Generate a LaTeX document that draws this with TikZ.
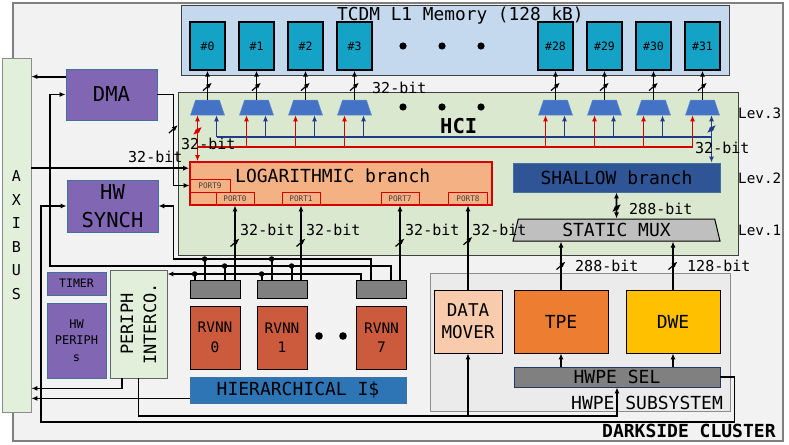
\documentclass[tikz,border=0pt]{standalone}
\usepackage{fontspec}
\setmainfont{DejaVu Sans Mono}
\usetikzlibrary{positioning,calc,shapes.geometric,arrows.meta}

\definecolor{clusterbg}{HTML}{F2F2F2}
\definecolor{clusterln}{HTML}{7F7F7F}
\definecolor{axigreen}{HTML}{E2EFDA}
\definecolor{tcdmblue}{HTML}{C4D9ED}
\definecolor{bankcyan}{HTML}{14A3C7}
\definecolor{hcigreen}{HTML}{D9E8CF}
\definecolor{muxblue}{HTML}{4472C4}
\definecolor{ctrlpurple}{HTML}{8066B3}
\definecolor{boxedge}{HTML}{41719C}
\definecolor{logsalmon}{HTML}{F4B183}
\definecolor{hcired}{HTML}{D40000}
\definecolor{hciblue}{HTML}{1F3C88}
\definecolor{shallowblue}{HTML}{2F5597}
\definecolor{muxgray}{HTML}{BFBFBF}
\definecolor{coregray}{HTML}{808080}
\definecolor{rvnnred}{HTML}{CC5B3E}
\definecolor{hierblue}{HTML}{2E75B6}
\definecolor{hwpebg}{HTML}{EBEBEB}
\definecolor{dmpeach}{HTML}{F8CBAD}
\definecolor{tpeorange}{HTML}{ED7D31}
\definecolor{dweyellow}{HTML}{FFC000}
\definecolor{seledge}{HTML}{1F3864}

\newcommand{\setfs}[2]{\fontsize{#1}{#2}\selectfont}

\begin{document}
\begin{tikzpicture}[
  x=1pt, y=-1pt,
  >={Latex[length=6pt,width=5pt]},
  every node/.style={inner sep=0pt, align=center},
  blk/.style={draw, line width=.8pt},
  ctrl/.style={blk, draw=boxedge, fill=ctrlpurple},
  bank/.style={blk, line width=1.3pt, fill=bankcyan, minimum width=35,
    minimum height=48, font=\setfs{11.5}{13}},
  hcimux/.style={trapezium, trapezium stretches=true, trapezium left angle=78,
    trapezium right angle=78, draw=muxblue!80!white, line width=.5pt,
    fill=muxblue, minimum width=34, minimum height=15, inner sep=1pt},
  port/.style={draw=hcired, line width=.8pt, minimum height=13,
    text=black!75, font=\setfs{7.7}{9}},
  lbl/.style={font=\setfs{18}{22}},
  bits/.style={anchor=base west, font=\setfs{15}{18}},
  lev/.style={anchor=base west, font=\setfs{14.3}{17}},
  wire/.style={line width=1.8pt},
  redbus/.style={line width=1.8pt, color=hcired},
  bluebus/.style={line width=1.8pt, color=hciblue},
  jdot/.style={circle, fill, minimum size=5.5pt},
  busw/.pic={\draw[line width=1.2pt] (-4.5pt,-4pt) -- (4.5pt,4pt);},
  ]
  \useasboundingbox (0,0) rectangle (789,444);

  % cluster frame and AXI bus
  \node[draw=clusterln, fill=clusterbg, line width=1.3pt, minimum width=770,
    minimum height=438] (cluster) at (398,222) {};
  \node[anchor=base west, font=\setfs{18}{22}\bfseries] (clustername)
    at (602,437) {DARKSIDE CLUSTER};
  \node[blk, draw=black!45, fill=axigreen, minimum width=29, minimum height=354,
    font=\setfs{15}{23.5}] (axi) at (16.5,235) {A\\X\\I\\B\\U\\S};

  % TCDM and HCI
  \node[blk, draw=black!75, fill=tcdmblue, minimum width=548, minimum height=70]
    (tcdm) at (455,40) {};
  \node[anchor=base west, font=\setfs{17.8}{20}] (tcdmname) at (337,20.5)
    {TCDM L1 Memory (128 kB)};
  \node[blk, draw=black!75, fill=hcigreen, minimum width=560, minimum height=163]
    (hci) at (458,173.5) {};
  \node[anchor=base west, font=\setfs{20.5}{24}\bfseries] (hciname) at (440,133) {HCI};

  \foreach \i/\x/\n in {0/207.5/0,1/256.5/1,2/305.5/2,3/354.5/3,
                        4/555.5/28,5/604.5/29,6/653.5/30,7/702.5/31}{
    \node[bank] (bank\i) at (\x,46) {\#\n};
    \node[hcimux] (mux\i) at (\x,107.5) {};
    \coordinate (rin\i) at ([xshift=-10pt]mux\i.south);
    \coordinate (bin\i) at ([xshift=9pt]mux\i.south);
  }
  \foreach \x in {403,442,481}{
    \fill (\x,46) circle (3.6pt);
    \fill (\x,107) circle (3.6pt);
  }

  \node[lev] (lev3) at (738,118) {Lev.3};
  \node[lev] (lev2) at (738,183) {Lev.2};
  \node[lev] (lev1) at (738,235) {Lev.1};

  % control side
  \node[ctrl, minimum width=91, minimum height=51, font=\setfs{20.5}{28.5}]
    (dma) at (111.5,94.5) {DMA};
  \node[ctrl, minimum width=91, minimum height=52, font=\setfs{20.5}{28.5}]
    (hwsynch) at (112.5,206) {HW\\SYNCH};
  \node[ctrl, minimum width=59, minimum height=23, font=\setfs{11.6}{14}]
    (timer) at (76.5,283.5) {TIMER};
  \node[ctrl, minimum width=59, minimum height=75, font=\setfs{12}{16.5}]
    (hwperiphs) at (76.5,340.5) {HW\\PERIPH\\s};
  \node[blk, draw=black!60, fill=axigreen, minimum width=57, minimum height=108]
    (periph) at (138.5,324) {};
  \node[rotate=90, font=\setfs{17}{23}] (periphname) at (periph) {PERIPH\\INTERCO.};

  % branches
  \node[blk, draw=hcired, line width=1.6pt, fill=logsalmon, minimum width=302,
    minimum height=43] (log) at (341,183.5) {};
  \node[anchor=base west, lbl] (logname) at (235,182) {LOGARITHMIC branch};
  \node[port, minimum width=40] (port9) at (210,185.5) {PORT9};
  \node[port, minimum width=26] (portx) at (203,198.5) {};
  \node[port, minimum width=38] (port0) at (235,198.5) {PORT0};
  \node[port, minimum width=38] (port1) at (301,198.5) {PORT1};
  \node[port, minimum width=38] (port7) at (400,198.5) {PORT7};
  \node[port, minimum width=39] (port8) at (468,198.5) {PORT8};
  \node[blk, draw=boxedge, fill=shallowblue, minimum width=207, minimum height=29,
    lbl] (shallow) at (616.5,177.5) {SHALLOW branch};
  \node[trapezium, trapezium stretches=true, trapezium left angle=78,
    trapezium right angle=78, draw, line width=1pt, fill=muxgray,
    minimum width=207, minimum height=22, lbl] (smux) at (616.5,230) {STATIC MUX};

  % cores
  \foreach \i/\x in {0/215,1/282,7/381.5}{
    \node[blk, fill=coregray, minimum width=50, minimum height=18] (core\i) at (\x,289) {};
    \node[blk, fill=rvnnred, minimum width=50, minimum height=63,
      font=\setfs{14.5}{19.5}] (rvnn\i) at (\x,337.5) {RVNN\\\i};
    \coordinate (tapc\i) at ([xshift=5pt]core\i.north west);
    \coordinate (tapa\i) at ([xshift=15pt]core\i.north west);
    \coordinate (tapb\i) at ([xshift=35pt]core\i.north west);
  }
  \fill (319,336) circle (3.8pt) (343,336) circle (3.8pt);
  \node[blk, draw=boxedge, fill=hierblue, minimum width=216, minimum height=26, lbl]
    (hier) at (298,390) {HIERARCHICAL I\$};

  % HWPE subsystem
  \node[blk, draw=black!45, fill=hwpebg, minimum width=300, minimum height=138]
    (hwpe) at (580,342) {};
  \node[anchor=base west, lbl] (hwpename) at (571,409) {HWPE SUBSYSTEM};
  \node[blk, fill=dmpeach, minimum width=68, minimum height=63,
    font=\setfs{17.6}{22}] (dm) at (468,321.5) {DATA\\MOVER};
  \node[blk, fill=tpeorange, minimum width=94, minimum height=63, lbl]
    (tpe) at (561,321.5) {TPE};
  \node[blk, fill=dweyellow, minimum width=94, minimum height=63, lbl]
    (dwe) at (673,321.5) {DWE};
  \node[blk, draw=seledge, fill=coregray, minimum width=206, minimum height=20, lbl]
    (hwpesel) at (617,377) {HWPE SEL};

  % HCI wiring
  \foreach \i in {0,...,7}
    \draw[wire,->] (mux\i.north) -- pic[pos=.45]{busw} (bank\i.south);
  \coordinate (redrow) at (0,147);
  \coordinate (bluerow) at (0,137);
  \draw[bluebus] (bin0 |- bluerow) -- (bin7 |- bluerow);
  \foreach \i in {0,...,6}
    \draw[bluebus,->] (bin\i |- bluerow) -- (bin\i);
  \draw[bluebus,<->] (bin7) -- pic[pos=.29]{busw} (bin7 |- shallow.north);
  \draw[redbus] (rin0 |- redrow) -- (rin7 |- redrow);
  \foreach \i in {1,...,7}
    \draw[redbus,->] (rin\i |- redrow) -- (rin\i);
  \draw[redbus,<->] (rin0) -- pic[pos=.34]{busw} (rin0 |- log.north);

  % buses towards the cores
  \coordinate (rowa) at (0,259);
  \coordinate (rowb) at (0,266);
  \coordinate (rowc) at (0,274);
  \coordinate (syncbend) at ($(hwsynch.east)+(15,0)$);
  \coordinate (dmabend) at ($(dma.west)+(-16,0)$);
  \draw[wire,->] (tapa7) |- (syncbend |- rowa) -- (syncbend) -- (hwsynch.east);
  \draw[wire,->] (tapb7) |- (dmabend |- rowb) -- (dmabend) -- (dma.west);
  \draw[wire,->] (tapc7) |- (periph.east |- rowc);
  \foreach \i in {0,1}{
    \draw[wire] (tapa\i |- rowa) node[jdot]{} -- (tapa\i);
    \draw[wire] (tapb\i |- rowb) node[jdot]{} -- (tapb\i);
    \draw[wire] (tapc\i |- rowc) node[jdot]{} -- (tapc\i);
  }
  \draw[wire,->] (dma.east) -| pic[pos=.69]{busw} (syncbend |- port9.west) -- (port9.west);
  \foreach \i in {0,1,7}
    \draw[wire,->] (port\i |- core\i.north) -- pic[pos=.5]{busw} (port\i.south);
  \draw[wire,->] (dm.north) -- pic[pos=.58]{busw} (port8.south);

  % AXI side
  \coordinate (dmaout) at ([yshift=-8pt]dma.north west);
  \coordinate (axiin) at ([yshift=-7pt]log.north west);
  \coordinate (perout) at ([xshift=-16.5pt]periph.south);
  \coordinate (hierout) at ([yshift=5pt]hier.south west);
  \draw[wire,->] (dmaout) -- (axi.east |- dmaout);
  \draw[wire,->] (axi.east |- axiin) -- (axiin);
  \draw[wire,->] (perout) |- ($(axi.east |- perout)+(0,10)$);
  \draw[wire,->] (hierout) -- (axi.east |- hierout);

  % configuration and events
  \coordinate (cfgrow) at (0,416);
  \coordinate (evtrow) at (0,422);
  \draw[wire,->] (periph.south) |- (hwpesel.south |- cfgrow) -- (hwpesel.south);
  \draw[wire,->] (dm.south |- cfgrow) -- (dm.south);
  \draw[wire,->] (hwpesel.east) -- ++(14,0)
    |- ($(hwsynch.west |- evtrow)+(-26,0)$) |- (hwsynch.west);

  % HWPE datapath
  \draw[wire,->] (hwpesel.north -| tpe) -- (tpe.south);
  \draw[wire,->] (hwpesel.north -| dwe) -- (dwe.south);
  \draw[wire,->] (tpe.north) -- pic[pos=.5]{busw} (smux.south -| tpe.north);
  \draw[wire,->] (dwe.north) -- pic[pos=.5]{busw} (smux.south -| dwe.north);
  \draw[wire,<->] (smux.north) -- pic[pos=.4]{busw} (shallow.south);

  % bus widths
  \node[bits] (bitsbank) at (372,93) {32-bit};
  \node[bits] (bitsred) at (181,149) {32-bit};
  \node[bits] (bitsaxi) at (128,162) {32-bit};
  \node[bits] (bitsblue) at (695,153) {32-bit};
  \node[bits] (bitsp0) at (240,235) {32-bit};
  \node[bits] (bitsp1) at (306,235) {32-bit};
  \node[bits] (bitsp7) at (405,235) {32-bit};
  \node[bits] (bitsp8) at (472,235) {32-bit};
  \node[bits] (bitsshallow) at (629,214) {288-bit};
  \node[bits] (bitstpe) at (575,271) {288-bit};
  \node[bits] (bitsdwe) at (687,271) {128-bit};
\end{tikzpicture}
\end{document}
